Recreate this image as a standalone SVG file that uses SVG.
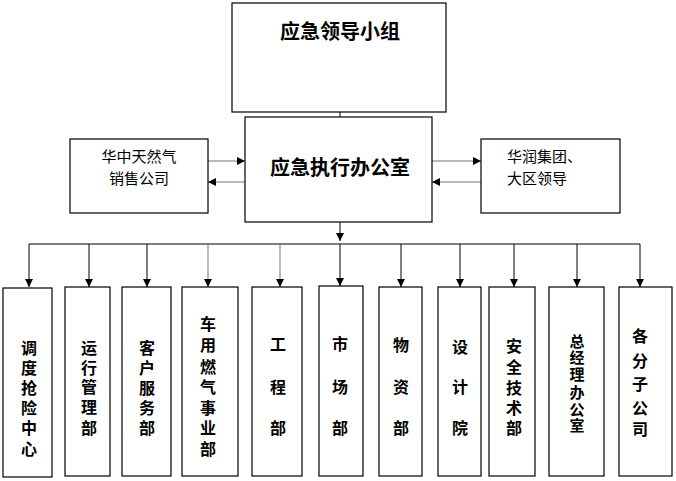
<svg xmlns="http://www.w3.org/2000/svg" width="676" height="481" viewBox="0 0 676 481">
<style>
.box{fill:#fff;stroke:#000;stroke-width:1.2}
.t{font-family:"Noto Sans CJK SC","Noto Sans CJK TC",sans-serif;fill:#000}
.title{font-size:20px;font-weight:bold;text-anchor:middle;dominant-baseline:central}
.side{font-size:15px;dominant-baseline:central}
.v{font-size:16px;font-weight:bold;text-anchor:middle;dominant-baseline:central}
.c{fill:none;stroke:#000;stroke-width:1}
.g{stroke:#777}
</style>
<defs>
<marker id="ah" markerUnits="userSpaceOnUse" markerWidth="9" markerHeight="9" refX="8" refY="4" orient="auto">
<path d="M0,0 L8,4 L0,8 z" fill="#000"/>
</marker>
</defs>
<rect width="676" height="481" fill="#fff"/>
<g id="connectors">
<line class="c" x1="340" y1="112" x2="340" y2="152" marker-end="url(#ah)"/>
<line class="c g" x1="208" y1="161" x2="245" y2="161" marker-end="url(#ah)"/>
<line class="c g" x1="245" y1="182" x2="208" y2="182" marker-end="url(#ah)"/>
<line class="c g" x1="432" y1="161" x2="481" y2="161" marker-end="url(#ah)"/>
<line class="c g" x1="481" y1="182" x2="432" y2="182" marker-end="url(#ah)"/>
<line class="c" x1="340" y1="222" x2="340" y2="241" marker-end="url(#ah)"/>
<line class="c" x1="29" y1="244" x2="640" y2="244"/>
<line class="c" x1="29" y1="244" x2="29" y2="287" marker-end="url(#ah)"/>
<line class="c" x1="89" y1="244" x2="89" y2="287" marker-end="url(#ah)"/>
<line class="c" x1="147" y1="244" x2="147" y2="287" marker-end="url(#ah)"/>
<line class="c g" x1="208" y1="244" x2="208" y2="287" marker-end="url(#ah)"/>
<line class="c g" x1="280" y1="244" x2="280" y2="287" marker-end="url(#ah)"/>
<line class="c" x1="340" y1="244" x2="340" y2="286" marker-end="url(#ah)"/>
<line class="c" x1="401" y1="244" x2="401" y2="287" marker-end="url(#ah)"/>
<line class="c" x1="460" y1="244" x2="460" y2="287" marker-end="url(#ah)"/>
<line class="c" x1="514" y1="244" x2="514" y2="287" marker-end="url(#ah)"/>
<line class="c" x1="577" y1="244" x2="577" y2="287" marker-end="url(#ah)"/>
<line class="c" x1="640" y1="244" x2="640" y2="287" marker-end="url(#ah)"/>
</g>
<g id="leader">
<rect class="box" x="232" y="3" width="214" height="109"/>
<text class="t title" x="340" y="30">应急领导小组</text>
</g>
<g id="exec">
<rect class="box" x="245" y="117" width="187" height="105"/>
<text class="t title" x="340" y="166">应急执行办公室</text>
</g>
<g id="huazhong">
<rect class="box" x="70" y="139" width="138" height="74"/>
<text class="t side" x="139" y="155" text-anchor="middle">华中天然气</text>
<text class="t side" x="139" y="177" text-anchor="middle">销售公司</text>
</g>
<g id="huarun">
<rect class="box" x="481" y="139" width="139" height="74"/>
<text class="t side" x="507" y="155">华润集团、</text>
<text class="t side" x="507" y="177">大区领导</text>
</g>
<g id="d1">
<rect class="box" x="3" y="288" width="49" height="189"/>
<text class="t v"><tspan x="29" y="347">调</tspan><tspan x="29" y="367">度</tspan><tspan x="29" y="387">抢</tspan><tspan x="29" y="407">险</tspan><tspan x="29" y="427">中</tspan><tspan x="29" y="448">心</tspan></text>
</g>
<g id="d2">
<rect class="box" x="65" y="287" width="45" height="189"/>
<text class="t v"><tspan x="89" y="347">运</tspan><tspan x="89" y="367">行</tspan><tspan x="89" y="386">管</tspan><tspan x="89" y="406">理</tspan><tspan x="89" y="427">部</tspan></text>
</g>
<g id="d3">
<rect class="box" x="122" y="287" width="49" height="189"/>
<text class="t v"><tspan x="147" y="347">客</tspan><tspan x="147" y="367">户</tspan><tspan x="147" y="387">服</tspan><tspan x="147" y="407">务</tspan><tspan x="147" y="427">部</tspan></text>
</g>
<g id="d4">
<rect class="box" x="182" y="287" width="56" height="189"/>
<text class="t v"><tspan x="208" y="323">车</tspan><tspan x="208" y="344">用</tspan><tspan x="208" y="366">燃</tspan><tspan x="208" y="386">气</tspan><tspan x="208" y="407">事</tspan><tspan x="208" y="427">业</tspan><tspan x="208" y="448">部</tspan></text>
</g>
<g id="d5">
<rect class="box" x="252" y="287" width="50" height="189"/>
<text class="t v"><tspan x="278" y="343">工</tspan><tspan x="278" y="386">程</tspan><tspan x="278" y="427">部</tspan></text>
</g>
<g id="d6">
<rect class="box" x="319" y="286" width="44" height="190"/>
<text class="t v"><tspan x="340" y="343">市</tspan><tspan x="340" y="386">场</tspan><tspan x="340" y="427">部</tspan></text>
</g>
<g id="d7">
<rect class="box" x="379" y="287" width="43" height="189"/>
<text class="t v"><tspan x="401" y="344">物</tspan><tspan x="401" y="386">资</tspan><tspan x="401" y="427">部</tspan></text>
</g>
<g id="d8">
<rect class="box" x="438" y="287" width="43" height="189"/>
<text class="t v"><tspan x="460" y="346">设</tspan><tspan x="460" y="386">计</tspan><tspan x="460" y="427">院</tspan></text>
</g>
<g id="d9">
<rect class="box" x="489" y="287" width="46" height="189"/>
<text class="t v"><tspan x="514" y="345">安</tspan><tspan x="514" y="366">全</tspan><tspan x="514" y="387">技</tspan><tspan x="514" y="407">术</tspan><tspan x="514" y="427">部</tspan></text>
</g>
<g id="d10">
<rect class="box" x="549" y="287" width="55" height="189"/>
<text class="t v" style="font-size:15px"><tspan x="577" y="340">总</tspan><tspan x="577" y="356">经</tspan><tspan x="577" y="373">理</tspan><tspan x="577" y="391">办</tspan><tspan x="577" y="408">公</tspan><tspan x="577" y="424">室</tspan></text>
</g>
<g id="d11">
<rect class="box" x="619" y="287" width="53" height="189"/>
<text class="t v"><tspan x="640" y="335">各</tspan><tspan x="640" y="360">分</tspan><tspan x="640" y="383">子</tspan><tspan x="640" y="407">公</tspan><tspan x="640" y="428">司</tspan></text>
</g>
</svg>
